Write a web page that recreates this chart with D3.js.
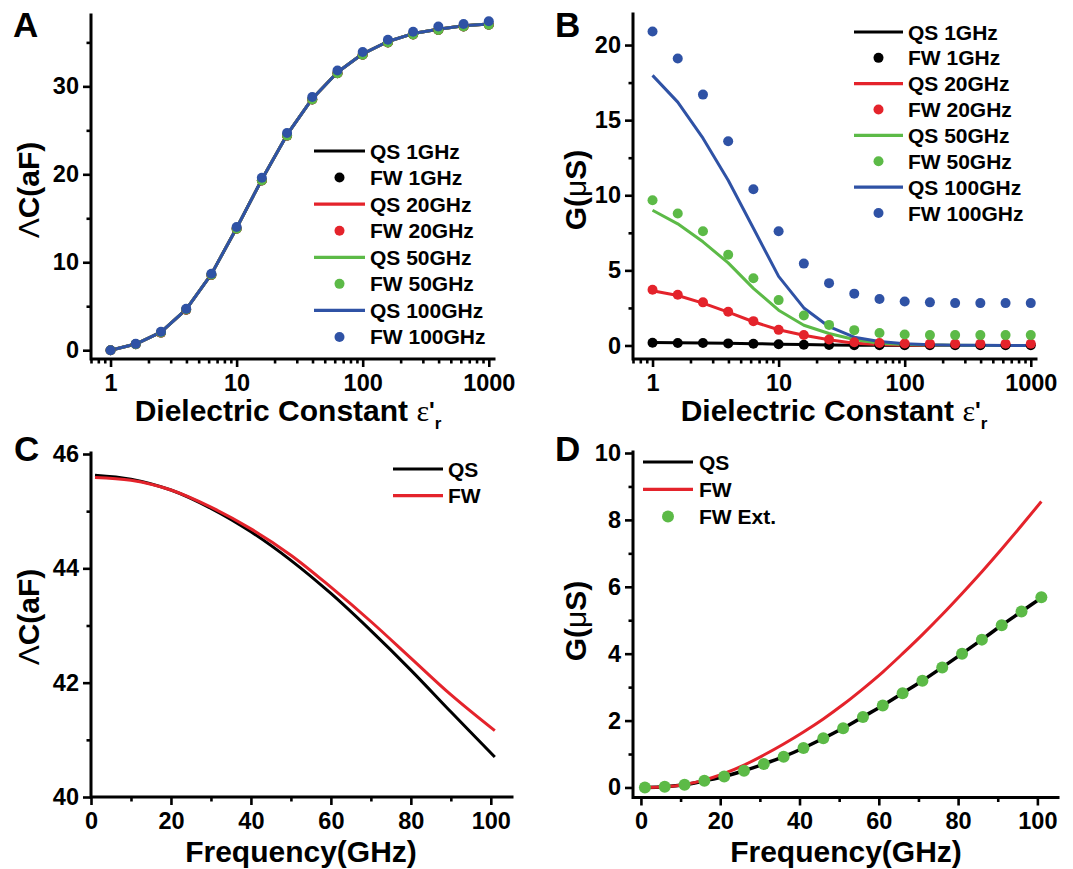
<!DOCTYPE html>
<html><head><meta charset="utf-8">
<script src="https://cdn.jsdelivr.net/npm/d3@7"></script>
<style>
body{margin:0;background:#fff;}
svg text{font-family:"Liberation Sans",Arial,sans-serif;font-weight:bold;fill:#000;}
</style></head><body>
<svg id="c" width="1073" height="869"></svg>
<script>
// ---------------- data ----------------
const epsilon = [1, 1.585, 2.512, 3.981, 6.310, 10, 15.85, 25.12, 39.81, 63.10, 100, 158.5, 251.2, 398.1, 631.0, 1000];
// Panel A : Delta C (aF)
const dcQS    = [0, 0.70, 2.05, 4.65, 8.65, 13.9, 19.4, 24.5, 28.6, 31.6, 33.7, 35.1, 36.0, 36.5, 36.9, 37.1];
const dcFW1   = [0, 0.68, 2.00, 4.60, 8.55, 13.8, 19.3, 24.4, 28.5, 31.5, 33.6, 35.0, 35.9, 36.4, 36.8, 37.0];
const dcFW20  = [0, 0.68, 2.00, 4.60, 8.55, 13.8, 19.3, 24.4, 28.5, 31.5, 33.6, 35.0, 35.9, 36.4, 36.8, 37.0];
const dcFW50  = [0, 0.69, 2.02, 4.62, 8.58, 13.8, 19.3, 24.4, 28.5, 31.5, 33.6, 35.0, 35.9, 36.4, 36.8, 37.0];
const dcFW100 = [0, 0.72, 2.10, 4.70, 8.70, 14.0, 19.6, 24.7, 28.8, 31.8, 33.9, 35.3, 36.2, 36.8, 37.1, 37.4];
// Panel B : G (uS)
const gQS1    = [0.20, 0.19, 0.17, 0.15, 0.12, 0.09, 0.06, 0.04, 0.02, 0.01, 0.005, 0, 0, 0, 0, 0];
const gFW1    = [0.18, 0.17, 0.16, 0.14, 0.11, 0.08, 0.05, 0.03, 0.02, 0.01, 0.01, 0.01, 0.01, 0.01, 0.01, 0.01];
const gQS20   = [3.64, 3.33, 2.82, 2.22, 1.58, 1.05, 0.68, 0.38, 0.15, 0.06, 0.02, 0.01, 0, 0, 0, 0];
const gFW20   = [3.71, 3.38, 2.87, 2.24, 1.62, 1.04, 0.70, 0.40, 0.22, 0.16, 0.13, 0.11, 0.11, 0.11, 0.11, 0.11];
const gQS50   = [9.0, 8.1, 6.9, 5.5, 3.8, 2.35, 1.35, 0.80, 0.40, 0.15, 0.06, 0.03, 0.01, 0, 0, 0];
const gFW50   = [9.67, 8.78, 7.6, 6.04, 4.47, 3.02, 2.0, 1.37, 1.02, 0.83, 0.73, 0.69, 0.69, 0.69, 0.69, 0.69];
const gQS100  = [17.98, 16.2, 13.8, 11.0, 7.8, 4.6, 2.5, 1.25, 0.55, 0.27, 0.12, 0.05, 0.02, 0.01, 0, 0];
const gFW100  = [20.9, 19.1, 16.7, 13.6, 10.4, 7.6, 5.45, 4.15, 3.45, 3.09, 2.93, 2.87, 2.82, 2.82, 2.82, 2.82];
// Panel C : Delta C vs frequency
const freqC = [1, 10, 20, 30, 40, 50, 60, 70, 80, 90, 101];
const cQS   = [45.63, 45.56, 45.37, 45.05, 44.64, 44.14, 43.56, 42.91, 42.22, 41.49, 40.70];
const cFW   = [45.59, 45.54, 45.37, 45.07, 44.69, 44.23, 43.67, 43.07, 42.43, 41.79, 41.16];
// Panel D : G vs frequency
const freqD = [1, 6, 11, 16, 21, 26, 31, 36, 41, 46, 51, 56, 61, 66, 71, 76, 81, 86, 91, 96, 101];
const dQS   = [0, 0.02, 0.08, 0.20, 0.33, 0.50, 0.70, 0.92, 1.18, 1.47, 1.77, 2.11, 2.45, 2.82, 3.19, 3.59, 4.00, 4.42, 4.85, 5.26, 5.67];
const dFW   = [0, 0.02, 0.09, 0.22, 0.42, 0.67, 0.97, 1.30, 1.66, 2.05, 2.48, 2.95, 3.45, 4.00, 4.57, 5.17, 5.80, 6.45, 7.13, 7.83, 8.55];
const dExt  = [0, 0.02, 0.08, 0.20, 0.33, 0.50, 0.70, 0.92, 1.18, 1.47, 1.77, 2.11, 2.45, 2.82, 3.19, 3.59, 4.00, 4.42, 4.85, 5.26, 5.69];

const logMajor = [1, 10, 100, 1000];
const logMinor = [0.7, 0.8, 0.9, 2, 3, 4, 5, 6, 7, 8, 9, 20, 30, 40, 50, 60, 70, 80, 90, 200, 300, 400, 500, 600, 700, 800, 900];
const ticksA = [0, 10, 20, 30], minorA = [5, 15, 25, 35];
const ticksB = [0, 5, 10, 15, 20], minorB = [2.5, 7.5, 12.5, 17.5];
const ticksCy = [40, 42, 44, 46], minorCy = [41, 43, 45];
const ticksFreq = [0, 20, 40, 60, 80, 100], minorFreq = [10, 30, 50, 70, 90];
const ticksDy = [0, 2, 4, 6, 8, 10], minorDy = [1, 3, 5, 7, 9];

const BLACK = "#000000", RED = "#e4232b", GREEN = "#5cba47", BLUE = "#2f52a5";

// ---------------- drawing ----------------
const svg = d3.select("#c");

function frame(x, y, xMaj, xMin, yMaj, yMin, xFmt) {
  const g = svg.append("g");
  const [x0, x1] = x.range();
  const [yb, yt] = y.range();
  g.append("g").attr("transform", `translate(0,${yb})`)
    .call(d3.axisBottom(x).tickValues(xMaj).tickSize(8).tickPadding(7).tickFormat(xFmt));
  g.append("g").attr("transform", `translate(0,${yb})`)
    .call(d3.axisBottom(x).tickValues(xMin).tickSize(4.5).tickFormat(""));
  g.append("g").attr("transform", `translate(${x0},0)`)
    .call(d3.axisLeft(y).tickValues(yMaj).tickSize(8).tickPadding(4).tickFormat(d3.format("d")));
  g.append("g").attr("transform", `translate(${x0},0)`)
    .call(d3.axisLeft(y).tickValues(yMin).tickSize(4.5).tickFormat(""));
  g.selectAll(".domain").remove();
  g.selectAll(".tick line").attr("stroke", "#000").attr("stroke-width", 2.6);
  g.selectAll(".tick text").attr("font-size", "23.5px").attr("font-weight", "bold")
    .attr("font-family", "'Liberation Sans',Arial,sans-serif").attr("fill", "#000");
  g.append("path").attr("d", `M${x0},${yt - 1}V${yb}H${x1}`)
    .attr("fill", "none").attr("stroke", "#000").attr("stroke-width", 3).attr("stroke-linecap", "square");
  return g;
}

function drawLine(xs, ys, x, y, color, curve, w) {
  svg.append("path").datum(xs.map((d, i) => [d, ys[i]]))
    .attr("fill", "none").attr("stroke", color).attr("stroke-width", w || 3)
    .attr("stroke-linejoin", "round")
    .attr("d", d3.line().x(d => x(d[0])).y(d => y(d[1])).curve(curve || d3.curveLinear));
}
function drawDots(xs, ys, x, y, color, r) {
  svg.append("g").selectAll("circle").data(xs.map((d, i) => [d, ys[i]])).join("circle")
    .attr("cx", d => x(d[0])).attr("cy", d => y(d[1])).attr("r", r).attr("fill", color);
}
function legend(items, lx0, lx1, tx, y0, step, r) {
  const g = svg.append("g");
  items.forEach((it, i) => {
    const yy = y0 + i * step;
    if (it.type === "line") {
      g.append("line").attr("x1", lx0).attr("x2", lx1).attr("y1", yy).attr("y2", yy)
        .attr("stroke", it.color).attr("stroke-width", 3.2);
    } else {
      g.append("circle").attr("cx", (lx0 + lx1) / 2).attr("cy", yy).attr("r", r).attr("fill", it.color);
    }
    g.append("text").attr("x", tx).attr("y", yy + 7.5).attr("font-size", "21px").text(it.label);
  });
}
function yLabel(xb, yc, parts) {
  const t = svg.append("text").attr("transform", `translate(${xb},${yc}) rotate(-90)`)
    .attr("text-anchor", "middle").attr("font-size", "30px");
  parts.forEach(p => t.append("tspan").attr("font-weight", p.w || "bold").text(p.s));
}
function xLabelEps(xc, yb) {
  const t = svg.append("text").attr("x", xc).attr("y", yb).attr("text-anchor", "middle").attr("font-size", "30px");
  t.append("tspan").text("Dielectric Constant ");
  t.append("tspan").attr("font-family", "'Liberation Serif',serif").attr("font-weight", "normal").text("ε");
  t.append("tspan").attr("font-size", "24px").attr("dy", -2).text("'");
  t.append("tspan").attr("font-size", "17px").attr("dx", 0).attr("dy", 10).text("r");
}
function panelLetter(x, y, s) {
  svg.append("text").attr("x", x).attr("y", y).attr("font-size", "35px").text(s);
}
const fmtLog = d => d3.format("d")(d);

// ---- Panel A ----
const xA = d3.scaleLog().domain([0.7, 1100]).range([91, 494]);
const yA = d3.scaleLinear().domain([-1, 38]).range([359, 16]);
frame(xA, yA, logMajor, logMinor, ticksA, minorA, fmtLog);
drawLine(epsilon, dcQS, xA, yA, BLACK);
drawLine(epsilon, dcQS, xA, yA, RED);
drawLine(epsilon, dcQS, xA, yA, GREEN);
drawLine(epsilon, dcQS, xA, yA, BLUE);
drawDots(epsilon, dcFW1, xA, yA, BLACK, 5);
drawDots(epsilon, dcFW20, xA, yA, RED, 5);
drawDots(epsilon, dcFW50, xA, yA, GREEN, 5);
drawDots(epsilon, dcFW100, xA, yA, BLUE, 5);
const legItems = [
  {type: "line", color: BLACK, label: "QS 1GHz"}, {type: "dot", color: BLACK, label: "FW 1GHz"},
  {type: "line", color: RED, label: "QS 20GHz"}, {type: "dot", color: RED, label: "FW 20GHz"},
  {type: "line", color: GREEN, label: "QS 50GHz"}, {type: "dot", color: GREEN, label: "FW 50GHz"},
  {type: "line", color: BLUE, label: "QS 100GHz"}, {type: "dot", color: BLUE, label: "FW 100GHz"}];
legend(legItems, 314, 365, 370, 151, 26.57, 5);
yLabel(39, 190, [{s: "Λ", w: "normal"}, {s: "C(aF)"}]);
xLabelEps(288, 421);
panelLetter(13, 37, "A");

// ---- Panel B ----
const xB = d3.scaleLog().domain([0.7, 1100]).range([633, 1036]);
const yB = d3.scaleLinear().domain([-0.9, 22]).range([359, 15]);
frame(xB, yB, logMajor, logMinor, ticksB, minorB, fmtLog);
drawLine(epsilon, gQS1, xB, yB, BLACK);
drawLine(epsilon, gQS20, xB, yB, RED);
drawLine(epsilon, gQS50, xB, yB, GREEN);
drawLine(epsilon, gQS100, xB, yB, BLUE);
drawDots(epsilon, gFW1, xB, yB, BLACK, 5);
drawDots(epsilon, gFW20, xB, yB, RED, 5);
drawDots(epsilon, gFW50, xB, yB, GREEN, 5);
drawDots(epsilon, gFW100, xB, yB, BLUE, 5);
legend(legItems, 854, 903, 908, 32, 25.86, 5);
yLabel(586, 190, [{s: "G("}, {s: "μ", w: "normal"}, {s: "S)"}]);
xLabelEps(834, 421);
panelLetter(555, 37, "B");

// ---- Panel C ----
const xC = d3.scaleLinear().domain([0, 105.3]).range([91, 512]);
const yC = d3.scaleLinear().domain([40, 46]).range([797, 454]);
frame(xC, yC, ticksFreq, minorFreq, ticksCy, minorCy, d3.format("d"));
drawLine(freqC, cQS, xC, yC, BLACK, d3.curveCatmullRom);
drawLine(freqC, cFW, xC, yC, RED, d3.curveCatmullRom);
legend([{type: "line", color: BLACK, label: "QS"}, {type: "line", color: RED, label: "FW"}],
  393, 443, 448, 469, 26.7, 5);
yLabel(39, 617, [{s: "Λ", w: "normal"}, {s: "C(aF)"}]);
svg.append("text").attr("x", 301).attr("y", 862).attr("text-anchor", "middle").attr("font-size", "30px").text("Frequency(GHz)");
panelLetter(14, 461, "C");

// ---- Panel D ----
const xD = d3.scaleLinear().domain([-2, 105.2]).range([633, 1058]);
const yD = d3.scaleLinear().domain([-0.3, 10]).range([797.5, 453]);
frame(xD, yD, ticksFreq, minorFreq, ticksDy, minorDy, d3.format("d"));
drawLine(freqD, dQS, xD, yD, BLACK, d3.curveMonotoneX, 3.5);
drawLine(freqD, dFW, xD, yD, RED, d3.curveMonotoneX, 3);
drawDots(freqD, dExt, xD, yD, GREEN, 6);
legend([{type: "line", color: BLACK, label: "QS"}, {type: "line", color: RED, label: "FW"},
  {type: "dot", color: GREEN, label: "FW Ext."}], 643, 693, 699, 462, 27.3, 6);
yLabel(586, 621, [{s: "G("}, {s: "μ", w: "normal"}, {s: "S)"}]);
svg.append("text").attr("x", 846).attr("y", 862).attr("text-anchor", "middle").attr("font-size", "30px").text("Frequency(GHz)");
panelLetter(555, 461, "D");
</script>
</body></html>
